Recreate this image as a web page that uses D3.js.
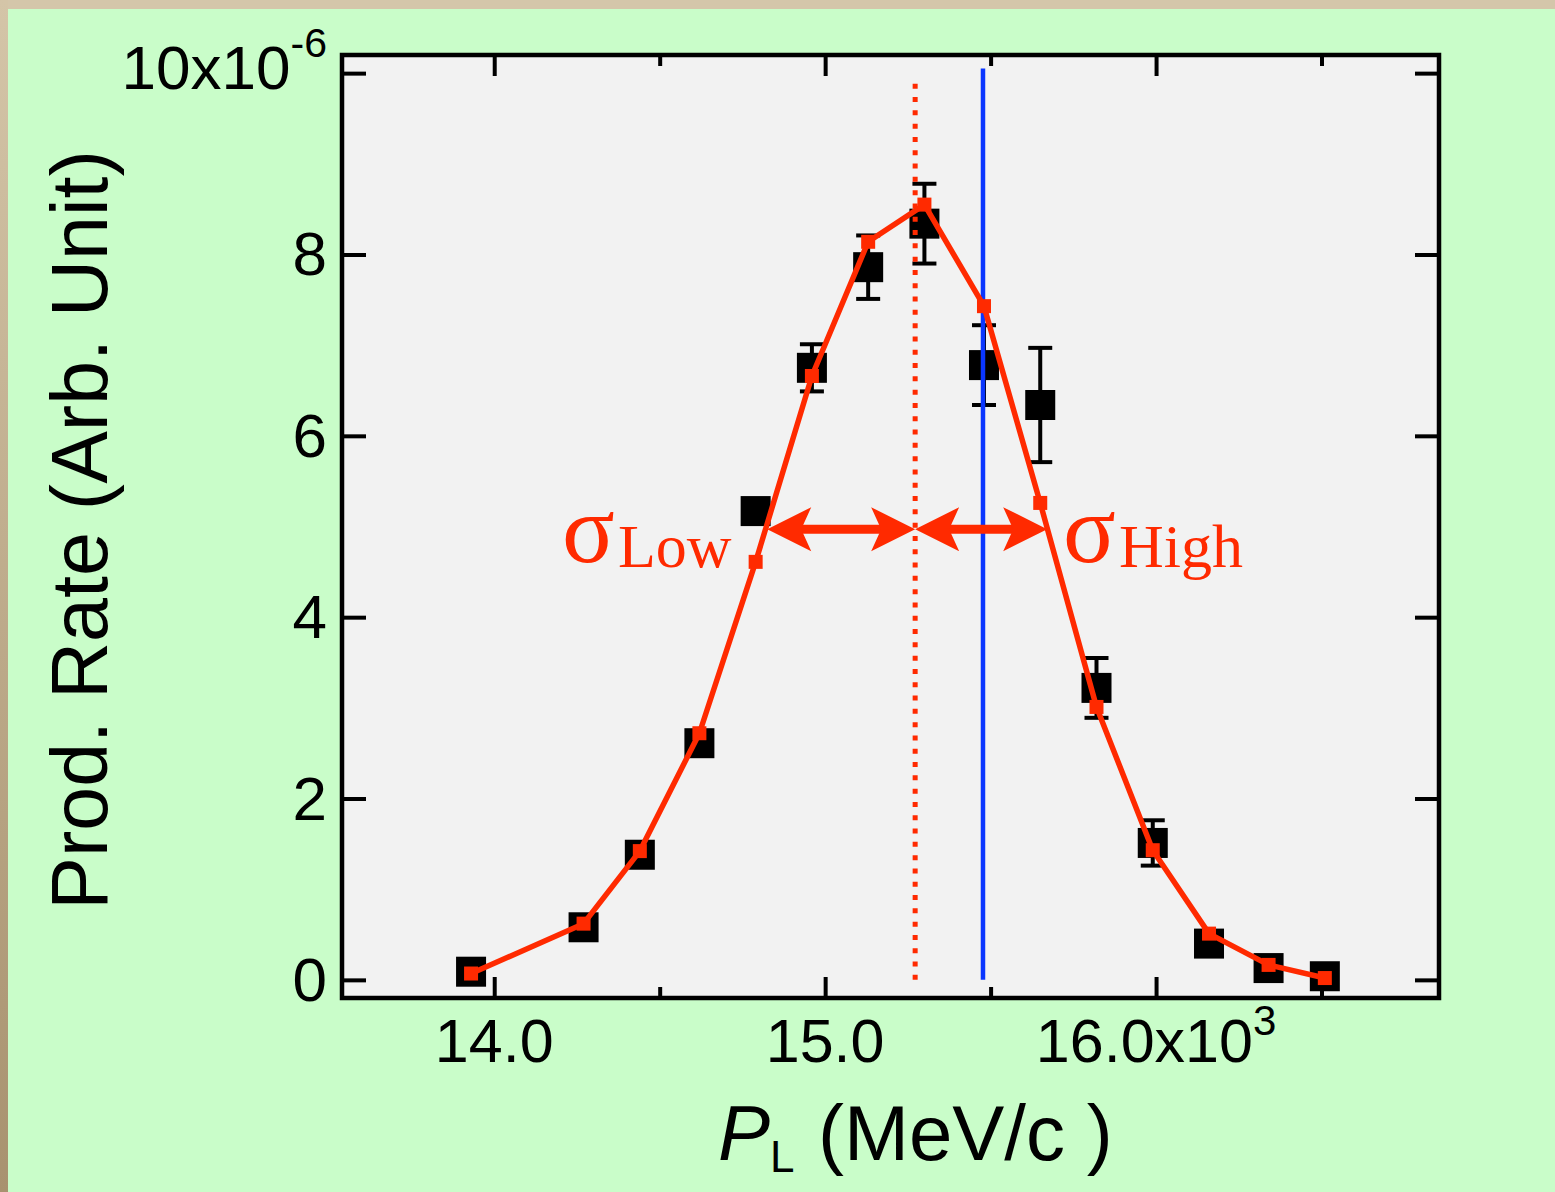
<!DOCTYPE html>
<html>
<head>
<meta charset="utf-8">
<script src="https://cdn.jsdelivr.net/npm/d3@7"></script>
<style>
  html, body { margin: 0; padding: 0; background: #c9fdc9; }
  svg { display: block; }
</style>
</head>
<body>
<script>
// Longitudinal momentum (GeV/c, axis shown as MeV/c x10^3)
const momentum = [13.93, 14.27, 14.44, 14.62, 14.79, 14.96, 15.13, 15.30, 15.48, 15.65, 15.82, 15.99, 16.16, 16.34, 16.51];
// Measured production rate (x10^-6) and its uncertainty
const rate    = [0.09, 0.58, 1.38, 2.61, 5.17, 6.75, 7.86, 8.34, 6.78, 6.34, 3.22, 1.51, 0.40, 0.13, 0.04];
const rateErr = [0.03, 0.05, 0.08, 0.10, 0.12, 0.26, 0.35, 0.44, 0.44, 0.63, 0.33, 0.25, 0.05, 0.03, 0.02];
// Fitted distribution evaluated at the same momenta
const fitRate = [0.07, 0.62, 1.42, 2.72, 4.61, 6.66, 8.14, 8.55, 7.43, 5.26, 3.01, 1.43, 0.51, 0.165, 0.02];

// Reference momenta and width markers
const peakMomentum = 15.272;
const beamMomentum = 15.477;
const sigmaLowEdge = 14.825;
const sigmaHighEdge = 15.671;
const sigmaLevel = 4.97;

// Axis ticks
const xMajorTicks = [14, 15, 16];
const xMinorTicks = [14.5, 15.5, 16.5];
const xTickLabels = ["14.0", "15.0", "16.0"];
const yTicks = [0, 2, 4, 6, 8, 10];
const yTickLabels = ["0", "2", "4", "6", "8", "10"];

const W = 1555, H = 1192;
const plot = { left: 342, right: 1439, top: 55, bottom: 998 };
const RED = "#ff2a00", BLUE = "#0a36ff";

const svg = d3.select("body").append("svg").attr("width", W).attr("height", H);

// page background: beige frame on top/left, green panel
const defs = svg.append("defs");
const grad = defs.append("linearGradient").attr("id", "edge").attr("x1", 0).attr("y1", 0).attr("x2", 0).attr("y2", 1);
grad.append("stop").attr("offset", "0%").attr("stop-color", "#d4c5a8");
grad.append("stop").attr("offset", "100%").attr("stop-color", "#a8926f");
svg.append("rect").attr("width", W).attr("height", H).attr("fill", "#c9fdc9");
svg.append("rect").attr("x", 0).attr("y", 0).attr("width", W).attr("height", 9).attr("fill", "#d4c6aa");
svg.append("rect").attr("x", 0).attr("y", 0).attr("width", 8).attr("height", H).attr("fill", "url(#edge)");

const x = d3.scaleLinear().domain([13.54, 16.855]).range([plot.left, plot.right]);
const y = d3.scaleLinear().domain([-0.2, 10.2]).range([plot.bottom, plot.top]);

// plot area
svg.append("rect")
  .attr("x", plot.left).attr("y", plot.top)
  .attr("width", plot.right - plot.left).attr("height", plot.bottom - plot.top)
  .attr("fill", "#f2f2f2");

// ticks (inward, mirrored on all four sides)
function styleTicks(g) {
  g.select(".domain").remove();
  g.selectAll("line").attr("stroke", "#000").attr("stroke-width", 4);
  g.selectAll("text").remove();
}
const fmtNone = () => "";
svg.append("g").attr("transform", `translate(0,${plot.bottom})`)
  .call(d3.axisBottom(x).tickValues(xMajorTicks).tickSize(-21).tickFormat(fmtNone)).call(styleTicks);
svg.append("g").attr("transform", `translate(0,${plot.bottom})`)
  .call(d3.axisBottom(x).tickValues(xMinorTicks).tickSize(-11).tickFormat(fmtNone)).call(styleTicks);
svg.append("g").attr("transform", `translate(0,${plot.top})`)
  .call(d3.axisTop(x).tickValues(xMajorTicks).tickSize(-21).tickFormat(fmtNone)).call(styleTicks);
svg.append("g").attr("transform", `translate(0,${plot.top})`)
  .call(d3.axisTop(x).tickValues(xMinorTicks).tickSize(-11).tickFormat(fmtNone)).call(styleTicks);
svg.append("g").attr("transform", `translate(${plot.left},0)`)
  .call(d3.axisLeft(y).tickValues(yTicks).tickSize(-24).tickFormat(fmtNone)).call(styleTicks);
svg.append("g").attr("transform", `translate(${plot.right},0)`)
  .call(d3.axisRight(y).tickValues(yTicks).tickSize(-24).tickFormat(fmtNone)).call(styleTicks);

// error bars
const eb = svg.append("g").attr("stroke", "#000").attr("stroke-width", 4);
momentum.forEach((p, i) => {
  const cx = x(p), y1 = y(rate[i] + rateErr[i]), y2 = y(rate[i] - rateErr[i]);
  eb.append("line").attr("x1", cx).attr("x2", cx).attr("y1", y1).attr("y2", y2);
  eb.append("line").attr("x1", cx - 12).attr("x2", cx + 12).attr("y1", y1).attr("y2", y1);
  eb.append("line").attr("x1", cx - 12).attr("x2", cx + 12).attr("y1", y2).attr("y2", y2);
});

// measured points
svg.append("g").selectAll("rect").data(momentum).join("rect")
  .attr("x", p => x(p) - 15).attr("y", (p, i) => y(rate[i]) - 15)
  .attr("width", 30).attr("height", 30).attr("fill", "#000");

// beam momentum line
svg.append("line")
  .attr("x1", x(beamMomentum)).attr("x2", x(beamMomentum))
  .attr("y1", y(0)).attr("y2", y(10.05))
  .attr("stroke", BLUE).attr("stroke-width", 4.5);

// peak position (dotted)
svg.append("line")
  .attr("x1", x(peakMomentum)).attr("x2", x(peakMomentum))
  .attr("y1", y(0)).attr("y2", y(9.9))
  .attr("stroke", RED).attr("stroke-width", 5).attr("stroke-dasharray", "5,8.3");

// fit curve
const line = d3.line().x((p) => x(p)).y((p, i) => y(fitRate[i]));
svg.append("path").datum(momentum).attr("d", line)
  .attr("fill", "none").attr("stroke", RED).attr("stroke-width", 5.5).attr("stroke-linejoin", "round");
svg.append("g").selectAll("rect").data(momentum).join("rect")
  .attr("x", p => x(p) - 7).attr("y", (p, i) => y(fitRate[i]) - 7)
  .attr("width", 14).attr("height", 14).attr("fill", RED);

// double-headed width arrows
function doubleArrow(p1, p2, level) {
  const xa = x(p1), xb = x(p2), yy = y(level);
  const g = svg.append("g").attr("fill", RED);
  g.append("line").attr("x1", xa + 30).attr("x2", xb - 30).attr("y1", yy).attr("y2", yy)
    .attr("stroke", RED).attr("stroke-width", 9);
  g.append("path").attr("d", `M${xa},${yy} L${xa + 44},${yy - 22} L${xa + 34},${yy} L${xa + 44},${yy + 22} Z`);
  g.append("path").attr("d", `M${xb},${yy} L${xb - 44},${yy - 22} L${xb - 34},${yy} L${xb - 44},${yy + 22} Z`);
}
doubleArrow(sigmaLowEdge, peakMomentum, sigmaLevel);
doubleArrow(peakMomentum, sigmaHighEdge, sigmaLevel);

// sigma labels
const serif = "'Liberation Serif', 'Times New Roman', serif";
function sigmaLabel(xs, sub) {
  svg.append("text").attr("x", xs).attr("y", 562)
    .attr("font-family", serif).attr("font-size", 98).attr("fill", RED).text("σ");
  svg.append("text").attr("x", xs + 56).attr("y", 567)
    .attr("font-family", serif).attr("font-size", 62).attr("fill", RED).text(sub);
}
sigmaLabel(562, "Low");
sigmaLabel(1063, "High");

// frame
svg.append("rect")
  .attr("x", plot.left).attr("y", plot.top)
  .attr("width", plot.right - plot.left).attr("height", plot.bottom - plot.top)
  .attr("fill", "none").attr("stroke", "#000").attr("stroke-width", 4.5);

const sans = "'Liberation Sans', Arial, Helvetica, sans-serif";

// x tick labels
xMajorTicks.forEach((v, i) => {
  const t = svg.append("text").attr("x", x(v)).attr("y", 1062)
    .attr("text-anchor", "middle").attr("font-family", sans).attr("font-size", 61).attr("fill", "#000");
  if (i === xMajorTicks.length - 1) {
    t.append("tspan").text(xTickLabels[i] + "x10");
    t.append("tspan").attr("font-size", 42).attr("dy", -27).text("3");
  } else {
    t.text(xTickLabels[i]);
  }
});

// y tick labels
yTicks.forEach((v, i) => {
  const last = i === yTicks.length - 1;
  const t = svg.append("text").attr("x", 327).attr("y", y(v) + (last ? 16 : 21))
    .attr("text-anchor", "end").attr("font-family", sans).attr("font-size", 62).attr("fill", "#000");
  if (last) {
    t.append("tspan").text(yTickLabels[i] + "x10");
    t.append("tspan").attr("font-size", 41).attr("dy", -32).text("-6");
  } else {
    t.text(yTickLabels[i]);
  }
});

// axis titles
const xt = svg.append("text").attr("x", 718).attr("y", 1160)
  .attr("font-family", sans).attr("font-size", 78).attr("fill", "#000");
xt.append("tspan").attr("font-style", "italic").text("P");
xt.append("tspan").attr("font-size", 44).attr("dy", 12).text("L");
xt.append("tspan").attr("dy", -12).attr("x", 818).text("(MeV/c )");

svg.append("text")
  .attr("transform", "translate(107,530) rotate(-90)")
  .attr("text-anchor", "middle").attr("font-family", sans).attr("font-size", 79).attr("fill", "#000")
  .text("Prod. Rate (Arb. Unit)");
</script>
</body>
</html>
